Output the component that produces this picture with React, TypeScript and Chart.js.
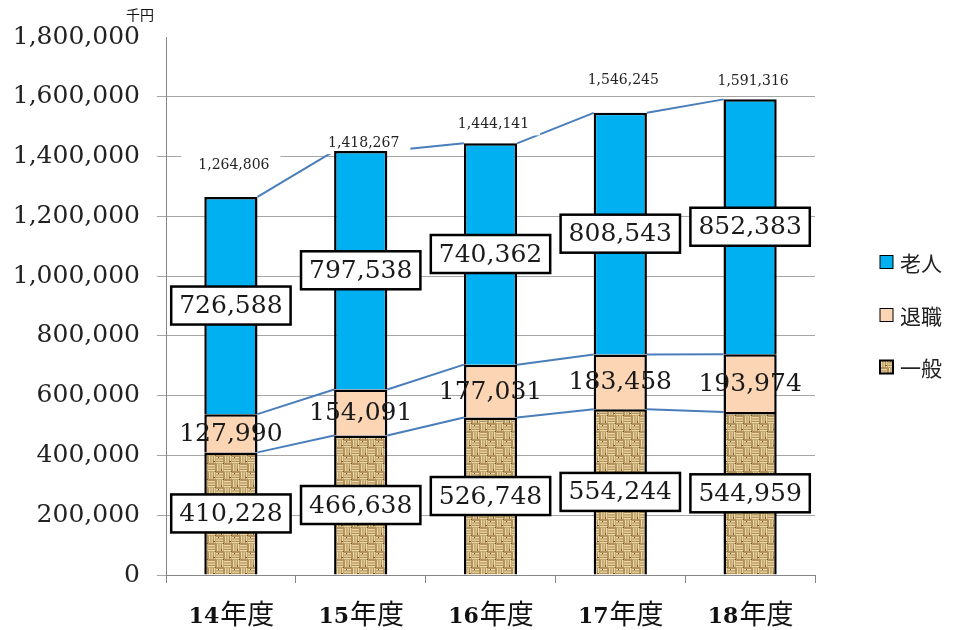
import React, { useEffect, useRef } from "react";
import { Chart, registerables } from "chart.js";

Chart.register(...registerables);

// 年度ごとの医療費（千円）
const CATEGORIES = ["14年度", "15年度", "16年度", "17年度", "18年度"];
const IPPAN = [410228, 466638, 526748, 554244, 544959]; // 一般
const TAISHOKU = [127990, 154091, 177031, 183458, 193974]; // 退職
const ROJIN = [726588, 797538, 740362, 808543, 852383]; // 老人
const TOTALS = CATEGORIES.map((_, i) => IPPAN[i] + TAISHOKU[i] + ROJIN[i]);

const Y_MAX = 1800000;
const Y_STEP = 200000;
const UNIT_LABEL = "千円";
const LEGEND_NAMES = ["老人", "退職", "一般"];

// how far each total label sits above its bar, in px
const TOTAL_LIFT = [32, 8, 19, 32, 18];

const SERIF = "'DejaVu Serif', 'Liberation Serif', serif";
const CJK = "'Noto Sans CJK JP', 'Noto Sans', sans-serif";
const BLUE = "#00B0F0";
const PEACH = "#FCD5B4";
const LINE_BLUE = "#4A7EBB";
const GRID = "#A6A6A6";
const AXIS = "#868686";

const fmt = (v: number) => v.toLocaleString("en-US");

// woven burlap fill for the 一般 segments
function makeBurlap(): CanvasPattern | string {
  const S = 16;
  const c = document.createElement("canvas");
  c.width = S;
  c.height = S;
  const g = c.getContext("2d");
  if (!g) return "#C2A068";
  g.fillStyle = "#B4915A";
  g.fillRect(0, 0, S, S);
  // basket weave: alternating bundles of horizontal and vertical strands
  g.fillStyle = "#EADAAA";
  for (let by = 0; by < S; by += 8) {
    for (let bx = 0; bx < S; bx += 8) {
      const horiz = ((bx + by) / 8) % 2 === 0;
      for (let k = 0; k < 3; k++) {
        const off = 1 + k * 2.5;
        if (horiz) g.fillRect(bx, by + off, 7, 1.3);
        else g.fillRect(bx + off, by, 1.3, 7);
      }
    }
  }
  g.fillStyle = "#D4B97F";
  g.fillRect(3, 11, 2, 1);
  g.fillRect(12, 3, 1, 2);
  g.fillStyle = "#7A582B";
  g.fillRect(7, 7, 1, 1);
  g.fillRect(15, 15, 1, 1);
  g.fillRect(5, 13, 2, 1);
  g.fillRect(13, 5, 1, 2);
  g.fillRect(10, 9, 1, 1);
  return g.createPattern(c, "repeat") || "#C2A068";
}

export default function App() {
  const ref = useRef<HTMLCanvasElement>(null);

  useEffect(() => {
    const canvas = ref.current;
    if (!canvas) return;
    const burlap = makeBurlap();

    const overlay = {
      id: "overlay",
      beforeDatasetsDraw(chart: any) {
        const ctx = chart.ctx;
        ctx.save();
        // series lines joining the tops of each stacked segment
        ctx.strokeStyle = LINE_BLUE;
        ctx.lineWidth = 2;
        for (let d = 0; d < 3; d++) {
          const els = chart.getDatasetMeta(d).data;
          for (let i = 0; i < els.length - 1; i++) {
            const a = els[i];
            const b = els[i + 1];
            ctx.beginPath();
            ctx.moveTo(a.x + a.width / 2, a.y);
            ctx.lineTo(b.x - b.width / 2, b.y);
            ctx.stroke();
          }
        }
        // white backing behind the total labels
        ctx.font = `14px ${SERIF}`;
        const tops = chart.getDatasetMeta(2).data;
        TOTALS.forEach((t, i) => {
          const el = tops[i];
          const y = el.y - TOTAL_LIFT[i];
          const w = ctx.measureText(fmt(t)).width + 28;
          ctx.fillStyle = "#ffffff";
          ctx.fillRect(el.x - w / 2, y - 11, w, 22);
        });
        ctx.restore();
      },
      afterDatasetsDraw(chart: any) {
        const ctx = chart.ctx;
        ctx.save();
        ctx.textAlign = "center";
        ctx.textBaseline = "middle";
        // segment value labels
        const series = [IPPAN, TAISHOKU, ROJIN];
        series.forEach((vals, d) => {
          const els = chart.getDatasetMeta(d).data;
          vals.forEach((v, i) => {
            const el = els[i];
            const cy = (el.y + el.base) / 2;
            const text = fmt(v);
            ctx.font = `25px ${SERIF}`;
            if (d !== 1) {
              const w = ctx.measureText(text).width + 16;
              const h = 38;
              ctx.fillStyle = "#ffffff";
              ctx.fillRect(el.x - w / 2, cy - h / 2, w, h);
              ctx.lineWidth = 2.5;
              ctx.strokeStyle = "#000000";
              ctx.strokeRect(el.x - w / 2, cy - h / 2, w, h);
            }
            ctx.fillStyle = "#1a1a1a";
            ctx.fillText(text, el.x, cy + 1);
          });
        });
        // totals above the bars
        ctx.font = `14px ${SERIF}`;
        ctx.fillStyle = "#222222";
        const tops = chart.getDatasetMeta(2).data;
        TOTALS.forEach((t, i) => {
          const el = tops[i];
          ctx.fillText(fmt(t), el.x + 3, el.y - TOTAL_LIFT[i]);
        });
        ctx.restore();
      },
      afterDraw(chart: any) {
        const ctx = chart.ctx;
        const xs = chart.scales.x;
        ctx.save();
        // category labels: bold serif digits followed by 年度
        ctx.textBaseline = "alphabetic";
        ctx.fillStyle = "#111111";
        CATEGORIES.forEach((c, i) => {
          const m = c.match(/^(\d+)(.*)$/);
          const num = m ? m[1] : c;
          const rest = m ? m[2] : "";
          const numFont = `bold 22px ${SERIF}`;
          const restFont = `27px ${CJK}`;
          ctx.font = numFont;
          const wn = ctx.measureText(num).width;
          ctx.font = restFont;
          const wr = ctx.measureText(rest).width;
          const cx = xs.getPixelForValue(i);
          let x = cx - (wn + wr) / 2;
          ctx.textAlign = "left";
          ctx.font = numFont;
          ctx.fillText(num, x, 623);
          x += wn + 1;
          ctx.font = restFont;
          ctx.fillText(rest, x, 624);
        });

        // unit label above the value axis
        ctx.font = `14px ${CJK}`;
        ctx.textAlign = "center";
        ctx.textBaseline = "middle";
        ctx.fillText(UNIT_LABEL, 140, 15);

        // legend
        const fills = [BLUE, PEACH, burlap];
        const ys = [262, 315, 367];
        LEGEND_NAMES.forEach((name, i) => {
          const y = ys[i];
          ctx.fillStyle = fills[i] as any;
          ctx.fillRect(880, y - 6.5, 13, 13);
          ctx.strokeStyle = "#000000";
          ctx.lineWidth = i === 2 ? 2 : 1;
          ctx.strokeRect(880, y - 6.5, 13, 13);
          ctx.fillStyle = "#222222";
          ctx.font = `21px ${CJK}`;
          ctx.textAlign = "left";
          ctx.textBaseline = "middle";
          ctx.fillText(name, 900, y + 1);
        });
        ctx.restore();
      },
    };

    const chart = new Chart(canvas, {
      type: "bar",
      data: {
        labels: CATEGORIES,
        datasets: [
          {
            label: "一般",
            data: IPPAN,
            backgroundColor: burlap as any,
            borderColor: "#000000",
            borderWidth: 2.5,
          },
          {
            label: "退職",
            data: TAISHOKU,
            backgroundColor: PEACH,
            borderColor: "#000000",
            borderWidth: 2.5,
          },
          {
            label: "老人",
            data: ROJIN,
            backgroundColor: BLUE,
            borderColor: "#000000",
            borderWidth: 2.5,
          },
        ],
      },
      options: {
        responsive: false,
        animation: false,
        events: [],
        layout: { padding: { top: 37, right: 145, bottom: 0, left: 0 } },
        datasets: {
          bar: { categoryPercentage: 1, barPercentage: 0.41 },
        },
        plugins: {
          legend: { display: false },
          tooltip: { enabled: false },
          title: { display: false },
        },
        scales: {
          x: {
            stacked: true,
            grid: {
              drawOnChartArea: false,
              drawTicks: true,
              tickLength: 8,
              color: AXIS,
            },
            border: { color: AXIS, width: 1 },
            ticks: { display: false },
            afterFit(scale: any) {
              scale.height = 55;
            },
          },
          y: {
            stacked: true,
            min: 0,
            max: Y_MAX,
            ticks: {
              stepSize: Y_STEP,
              padding: 17,
              color: "#222222",
              font: { family: SERIF, size: 25 },
              callback: (v: any) => fmt(Number(v)),
            },
            grid: {
              tickLength: 9,
              color: (ctx: any) =>
                ctx.tick && ctx.tick.value === Y_MAX ? "rgba(0,0,0,0)" : GRID,
            },
            border: { color: AXIS, width: 1 },
            afterFit(scale: any) {
              scale.width = 166;
            },
          },
        },
      },
      plugins: [overlay],
    });

    return () => chart.destroy();
  }, []);

  return (
    <div
      style={{
        position: "absolute",
        left: 0,
        top: 0,
        width: 960,
        height: 630,
        background: "#ffffff",
      }}
    >
      <canvas
        ref={ref}
        width={960}
        height={630}
        style={{ display: "block", width: 960, height: 630 }}
      />
    </div>
  );
}
